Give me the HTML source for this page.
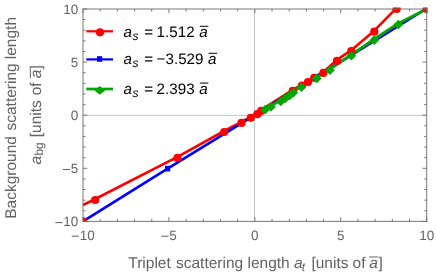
<!DOCTYPE html>
<html><head><meta charset="utf-8">
<style>
html,body{margin:0;padding:0;background:#fff;}
body{width:436px;height:274px;overflow:hidden;}
svg{display:block;font-family:"Liberation Sans",sans-serif;text-rendering:geometricPrecision;will-change:transform;}
</style></head><body>
<svg width="436" height="274" viewBox="0 0 436 274">
<rect width="436" height="274" fill="#fff"/>
<defs><clipPath id="c"><rect x="83.0" y="7.5" width="344.6" height="214.2"/></clipPath></defs>
<g stroke="#c4c4c4" stroke-width="1" fill="none"><line x1="254.5" y1="9.0" x2="254.5" y2="221.4"/><line x1="83.0" y1="115.35" x2="426.7" y2="115.35"/></g>
<g clip-path="url(#c)" fill="none" stroke-linejoin="round">
<polyline stroke="#ff0000" stroke-width="2.6" points="83.0,205.0 95.2,199.0 177.5,156.9 224.2,131.0 241.5,121.9 250.8,116.8 257.3,113.2 261.2,109.9 292.7,89.9 302.0,84.5 308.0,81.1 314.2,76.8 323.4,71.9 337.0,59.8 351.3,50.2 374.3,30.7 396.7,7.9"/>
<polyline stroke="#0000ff" stroke-width="2.6" points="83.0,221.4 167.6,168.6 254.8,115.2 426.7,8.4"/>
<polyline stroke="#00a800" stroke-width="2.8000000000000003" points="265.0,108.6 271.0,105.6 280.7,100.4 285.2,97.4 289.7,94.4 293.4,91.5 301.4,86.0 316.8,77.4 330.0,69.2 351.4,54.7 374.4,39.0 398.3,23.4 426.7,9.0"/>
<rect x="165.0" y="165.8" width="5.2" height="5.6" fill="#0000ff"/>
<g fill="#ff0000"><circle cx="95.2" cy="200.0" r="4.1"/><circle cx="177.5" cy="157.9" r="4.1"/><circle cx="224.2" cy="132.0" r="4.1"/><circle cx="241.5" cy="122.9" r="4.1"/><circle cx="250.8" cy="117.8" r="4.1"/><circle cx="257.3" cy="114.2" r="4.1"/><circle cx="261.2" cy="110.9" r="4.1"/><circle cx="292.7" cy="90.9" r="4.1"/><circle cx="302.0" cy="85.5" r="4.1"/><circle cx="308.0" cy="82.1" r="4.1"/><circle cx="314.2" cy="77.8" r="4.1"/><circle cx="323.4" cy="72.9" r="4.1"/><circle cx="337.0" cy="60.8" r="4.1"/><circle cx="351.3" cy="51.2" r="4.1"/><circle cx="374.3" cy="31.7" r="4.1"/><circle cx="396.7" cy="8.9" r="4.1"/><circle cx="426.7" cy="9.0" r="4.1"/><circle cx="83.0" cy="221.4" r="4.1"/></g>
<g fill="#00a800"><path d="M260.2,109.7 L265.0,104.9 L269.8,109.7 L265.0,114.5Z"/><path d="M266.2,106.7 L271.0,101.9 L275.8,106.7 L271.0,111.5Z"/><path d="M275.9,101.5 L280.7,96.7 L285.5,101.5 L280.7,106.3Z"/><path d="M280.4,98.5 L285.2,93.7 L290.0,98.5 L285.2,103.3Z"/><path d="M284.9,95.5 L289.7,90.7 L294.5,95.5 L289.7,100.3Z"/><path d="M288.6,92.6 L293.4,87.8 L298.2,92.6 L293.4,97.4Z"/><path d="M296.6,87.1 L301.4,82.3 L306.2,87.1 L301.4,91.9Z"/><path d="M312.0,78.5 L316.8,73.7 L321.6,78.5 L316.8,83.3Z"/><path d="M325.2,70.3 L330.0,65.5 L334.8,70.3 L330.0,75.1Z"/><path d="M346.6,55.8 L351.4,51.0 L356.2,55.8 L351.4,60.6Z"/><path d="M369.6,40.1 L374.4,35.3 L379.2,40.1 L374.4,44.9Z"/><path d="M393.5,24.5 L398.3,19.7 L403.1,24.5 L398.3,29.3Z"/></g>
</g>
<g stroke="#6a6a6a" stroke-width="1" fill="none" stroke-opacity="0.9"><rect x="83.0" y="9.0" width="343.7" height="212.4"/><path d="M83.00,221.4 v-4.2 M83.00,9.0 v4.2 M83.0,221.40 h4.2 M426.7,221.40 h-4.2 M100.19,221.4 v-2.5 M100.19,9.0 v2.5 M83.0,210.78 h2.5 M426.7,210.78 h-2.5 M117.37,221.4 v-2.5 M117.37,9.0 v2.5 M83.0,200.16 h2.5 M426.7,200.16 h-2.5 M134.56,221.4 v-2.5 M134.56,9.0 v2.5 M83.0,189.54 h2.5 M426.7,189.54 h-2.5 M151.74,221.4 v-2.5 M151.74,9.0 v2.5 M83.0,178.92 h2.5 M426.7,178.92 h-2.5 M168.93,221.4 v-4.2 M168.93,9.0 v4.2 M83.0,168.30 h4.2 M426.7,168.30 h-4.2 M186.11,221.4 v-2.5 M186.11,9.0 v2.5 M83.0,157.68 h2.5 M426.7,157.68 h-2.5 M203.29,221.4 v-2.5 M203.29,9.0 v2.5 M83.0,147.06 h2.5 M426.7,147.06 h-2.5 M220.48,221.4 v-2.5 M220.48,9.0 v2.5 M83.0,136.44 h2.5 M426.7,136.44 h-2.5 M237.66,221.4 v-2.5 M237.66,9.0 v2.5 M83.0,125.82 h2.5 M426.7,125.82 h-2.5 M254.85,221.4 v-4.2 M254.85,9.0 v4.2 M83.0,115.20 h4.2 M426.7,115.20 h-4.2 M272.03,221.4 v-2.5 M272.03,9.0 v2.5 M83.0,104.58 h2.5 M426.7,104.58 h-2.5 M289.22,221.4 v-2.5 M289.22,9.0 v2.5 M83.0,93.96 h2.5 M426.7,93.96 h-2.5 M306.40,221.4 v-2.5 M306.40,9.0 v2.5 M83.0,83.34 h2.5 M426.7,83.34 h-2.5 M323.59,221.4 v-2.5 M323.59,9.0 v2.5 M83.0,72.72 h2.5 M426.7,72.72 h-2.5 M340.77,221.4 v-4.2 M340.77,9.0 v4.2 M83.0,62.10 h4.2 M426.7,62.10 h-4.2 M357.96,221.4 v-2.5 M357.96,9.0 v2.5 M83.0,51.48 h2.5 M426.7,51.48 h-2.5 M375.14,221.4 v-2.5 M375.14,9.0 v2.5 M83.0,40.86 h2.5 M426.7,40.86 h-2.5 M392.33,221.4 v-2.5 M392.33,9.0 v2.5 M83.0,30.24 h2.5 M426.7,30.24 h-2.5 M409.51,221.4 v-2.5 M409.51,9.0 v2.5 M83.0,19.62 h2.5 M426.7,19.62 h-2.5 M426.70,221.4 v-4.2 M426.70,9.0 v4.2 M83.0,9.00 h4.2 M426.7,9.00 h-4.2"/></g>
<g fill="#636363" stroke="#636363" stroke-width="0" font-size="13.5px">
<line x1="71.69" y1="236.20" x2="78.89" y2="236.20" stroke-width="1.05"/>
<text x="79.64" y="239.5">10</text>
<text x="63.29" y="225.90">10</text>
<line x1="55.34" y1="222.60" x2="62.54" y2="222.60" stroke-width="1.05"/>
<line x1="161.37" y1="236.20" x2="168.57" y2="236.20" stroke-width="1.05"/>
<text x="169.32" y="239.5">5</text>
<text x="70.79" y="172.80">5</text>
<line x1="62.84" y1="169.50" x2="70.04" y2="169.50" stroke-width="1.05"/>
<text x="251.10" y="239.5">0</text>
<text x="70.79" y="119.70">0</text>
<text x="337.02" y="239.5">5</text>
<text x="70.79" y="66.60">5</text>
<text x="419.19" y="239.5">10</text>
<text x="63.29" y="13.50">10</text>
</g>
<g fill="#636363" font-size="15.5px">
<text x="128.30" y="267.6" font-size="15.5px">Triplet</text>
<text x="176.00" y="267.6" font-size="15.5px">scattering</text>
<text x="247.50" y="267.6" font-size="15.5px">length</text>
<text x="294.00" y="267.6" font-size="15.5px" font-style="italic">a</text>
<text x="301.80" y="270.6" font-size="12px" font-style="italic">t</text>
<text x="311.40" y="267.6" font-size="15.5px">[units</text>
<text x="352.60" y="267.6" font-size="15.5px">of</text>
<text x="369.20" y="267.6" font-size="15.5px" font-style="italic">a</text>
<text x="378.50" y="267.6" font-size="15.5px">]</text>
<line x1="369.1" y1="257.0" x2="378.1" y2="257.0" stroke="#636363" stroke-width="1"/>
<text transform="translate(15.6,218.8) rotate(-90)" font-size="15.5px">Background</text>
<text transform="translate(15.6,130.5) rotate(-90)" font-size="15.5px">scattering</text>
<text transform="translate(15.6,59.2) rotate(-90)" font-size="15.5px">length</text>
<text transform="translate(40.85,164.6) rotate(-90)" font-size="15.5px" font-style="italic">a</text>
<text transform="translate(43.3,155.6) rotate(-90)" font-size="12px">bg</text>
<text transform="translate(40.85,137.2) rotate(-90)" font-size="15.5px">[units</text>
<text transform="translate(40.85,95.3) rotate(-90)" font-size="15.5px">of</text>
<text transform="translate(40.85,78.2) rotate(-90)" font-size="15.5px" font-style="italic">a</text>
<text transform="translate(40.85,69.6) rotate(-90)" font-size="15.5px">]</text>
<line x1="30.4" y1="78.3" x2="30.4" y2="69.3" stroke="#636363" stroke-width="1"/>
</g>
<line x1="86.3" y1="31.3" x2="113" y2="31.3" stroke="#ff0000" stroke-width="2.2"/>
<circle cx="100" cy="32.3" r="4.1" fill="#ff0000"/>
<g font-size="15.2px" fill="#000"><text x="123.6" y="37.2" font-style="italic">a</text><text x="132.5" y="40.2" font-style="italic" font-size="12px">s</text><text x="144.2" y="37.2">=</text><text x="156.6" y="37.2">1.512</text><text x="199.3" y="37.2" font-style="italic">a</text></g>
<line x1="199.8" y1="26.3" x2="208.4" y2="26.3" stroke="#000" stroke-width="1"/>
<line x1="86.3" y1="59.4" x2="113" y2="59.4" stroke="#0000ff" stroke-width="2.2"/>
<rect x="97.0" y="56.2" width="5.2" height="5.6" fill="#0000ff"/>
<g font-size="15.2px" fill="#000"><text x="123.6" y="64.2" font-style="italic">a</text><text x="132.5" y="67.2" font-style="italic" font-size="12px">s</text><text x="144.2" y="64.2">=</text><text x="156.6" y="64.2">−3.529</text><text x="208.10000000000002" y="64.2" font-style="italic">a</text></g>
<line x1="208.60000000000002" y1="53.3" x2="217.20000000000002" y2="53.3" stroke="#000" stroke-width="1"/>
<line x1="86.3" y1="89.0" x2="113" y2="89.0" stroke="#00a800" stroke-width="2.7"/>
<path fill="#00a800" d="M94.5,90.5 L99.8,86.1 L105.1,90.5 L99.8,94.8Z"/>
<g font-size="15.2px" fill="#000"><text x="123.6" y="94.0" font-style="italic">a</text><text x="132.5" y="97.0" font-style="italic" font-size="12px">s</text><text x="144.2" y="94.0">=</text><text x="156.6" y="94.0">2.393</text><text x="199.3" y="94.0" font-style="italic">a</text></g>
<line x1="199.8" y1="83.1" x2="208.4" y2="83.1" stroke="#000" stroke-width="1"/>
</svg>
</body></html>
